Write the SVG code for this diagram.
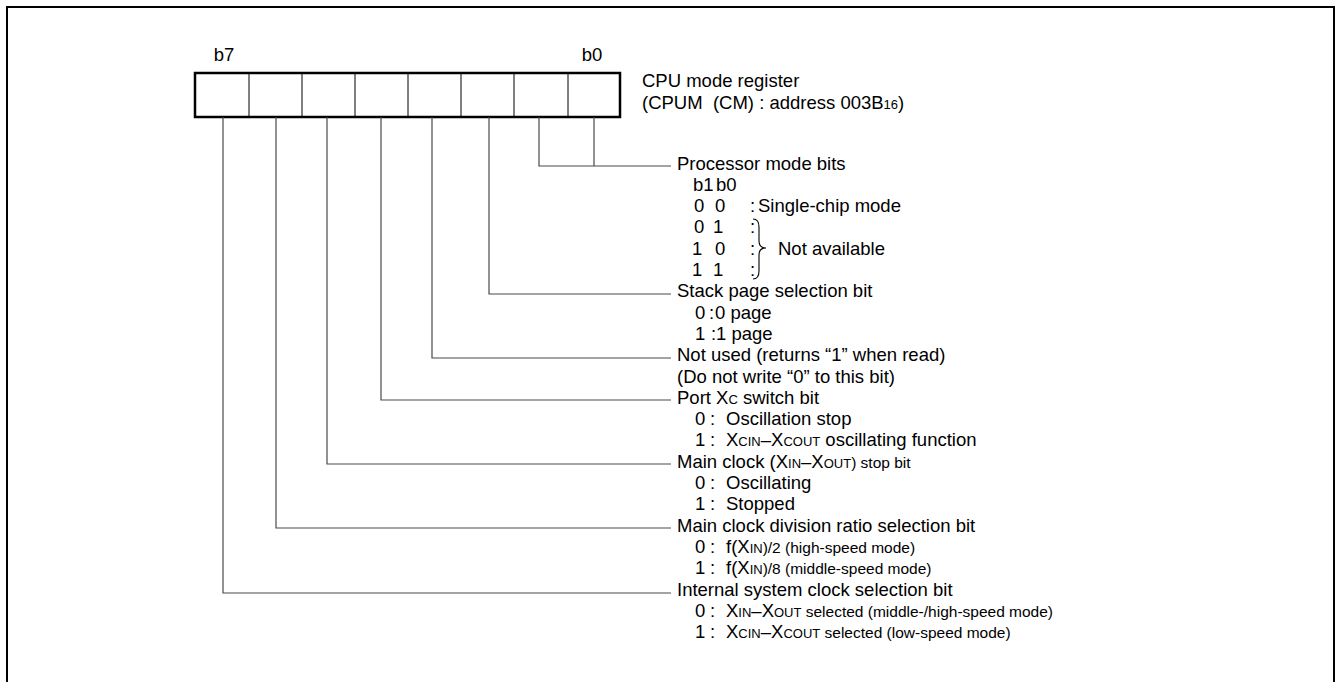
<svg xmlns="http://www.w3.org/2000/svg" width="1337" height="682" viewBox="0 0 1337 682">
<style>
text{font-family:"Liberation Sans",Arial,sans-serif;font-size:18.5px;fill:#000;white-space:pre}
.s{font-size:13px}
.m{font-size:15.5px}
.cell{stroke:#000;stroke-width:1}
.reg{fill:#fff;stroke:#000;stroke-width:2.5}
.lead{fill:none;stroke:#4a4a4a;stroke-width:1.2}
.frame{fill:none;stroke:#000;stroke-width:2}
.brace{fill:none;stroke:#000;stroke-width:1.1}
</style>
<rect width="1337" height="682" fill="#fff"/>
<path class="frame" d="M7,700 V7 H1334 V700"/>

<g id="register">
<rect class="reg" x="195" y="73" width="425" height="44"/>
<path class="cell" d="M249,73V117M302,73V117M355,73V117M408,73V117M461,73V117M514,73V117M568,73V117"/>
<text x="224" y="61" text-anchor="middle">b7</text>
<text x="592" y="61" text-anchor="middle">b0</text>
<text x="642" y="86.5">CPU mode register</text>
<text x="642" y="108.5">(CPUM  (CM) : address 003B<tspan class="s">16</tspan>)</text>
</g>

<g id="connectors">
<path class="lead" d="M539,117V166H671M594,117V166"/>
<path class="lead" d="M489,117V294H671"/>
<path class="lead" d="M432,117V358H671"/>
<path class="lead" d="M381,117V400H671"/>
<path class="lead" d="M327,117V464H671"/>
<path class="lead" d="M276,117V528H671"/>
<path class="lead" d="M223,117V593H671"/>
</g>

<g id="processor-mode">
<text x="677" y="169.5">Processor mode bits</text>
<text x="693" y="190.8">b1</text><text x="716" y="190.8">b0</text>
<text x="694" y="212.1">0</text><text x="715" y="212.1">0</text><text x="750" y="212.1">:</text><text x="758" y="212.1">Single-chip mode</text>
<text x="694" y="233.4">0</text><text x="713" y="233.4">1</text><text x="750" y="233.4">:</text>
<text x="692" y="254.7">1</text><text x="715" y="254.7">0</text><text x="750" y="254.7">:</text>
<text x="692" y="276">1</text><text x="713" y="276">1</text><text x="750" y="276">:</text>
<path class="brace" d="M753,219 Q759,219 759,227 L759,241 Q759,248 766,248 Q759,248 759,255 L759,271 Q759,279 753,279"/>
<text x="778" y="254.7">Not available</text>
</g>

<g id="stack-page">
<text x="677" y="297.3">Stack page selection bit</text>
<text x="695" y="318.6">0</text><text x="709" y="318.6">:</text><text x="715" y="318.6">0 page</text>
<text x="695" y="339.9">1</text><text x="711" y="339.9">:</text><text x="716" y="339.9">1 page</text>
</g>

<g id="not-used">
<text x="677" y="361.2">Not used (returns “1” when read)</text>
<text x="677" y="382.5">(Do not write “0” to this bit)</text>
</g>

<g id="port-xc">
<text x="677" y="403.8">Port X<tspan class="s">C</tspan> switch bit</text>
<text x="695" y="425.1">0</text><text x="710" y="425.1">:</text><text x="726" y="425.1">Oscillation stop</text>
<text x="695" y="446.4">1</text><text x="710" y="446.4">:</text><text x="726" y="446.4">X<tspan class="s">CIN</tspan>–X<tspan class="s">COUT</tspan> oscillating function</text>
</g>

<g id="main-clock-stop">
<text x="677" y="467.7">Main clock (X<tspan class="s">IN</tspan>–X<tspan class="s">OUT</tspan><tspan class="m">) stop bit</tspan></text>
<text x="695" y="489">0</text><text x="710" y="489">:</text><text x="726" y="489">Oscillating</text>
<text x="695" y="510.3">1</text><text x="710" y="510.3">:</text><text x="726" y="510.3">Stopped</text>
</g>

<g id="division-ratio">
<text x="677" y="531.6">Main clock division ratio selection bit</text>
<text x="695" y="552.9">0</text><text x="710" y="552.9">:</text><text x="726" y="552.9">f(X<tspan class="s">IN</tspan><tspan class="m">)/2 (high-speed mode)</tspan></text>
<text x="695" y="574.2">1</text><text x="710" y="574.2">:</text><text x="726" y="574.2">f(X<tspan class="s">IN</tspan><tspan class="m">)/8 (middle-speed mode)</tspan></text>
</g>

<g id="system-clock">
<text x="677" y="595.5">Internal system clock selection bit</text>
<text x="695" y="616.8">0</text><text x="710" y="616.8">:</text><text x="726" y="616.8">X<tspan class="s">IN</tspan>–X<tspan class="s">OUT</tspan><tspan class="m"> selected (middle-/high-speed mode)</tspan></text>
<text x="695" y="638.1">1</text><text x="710" y="638.1">:</text><text x="726" y="638.1">X<tspan class="s">CIN</tspan>–X<tspan class="s">COUT</tspan><tspan class="m"> selected (low-speed mode)</tspan></text>
</g>
</svg>
